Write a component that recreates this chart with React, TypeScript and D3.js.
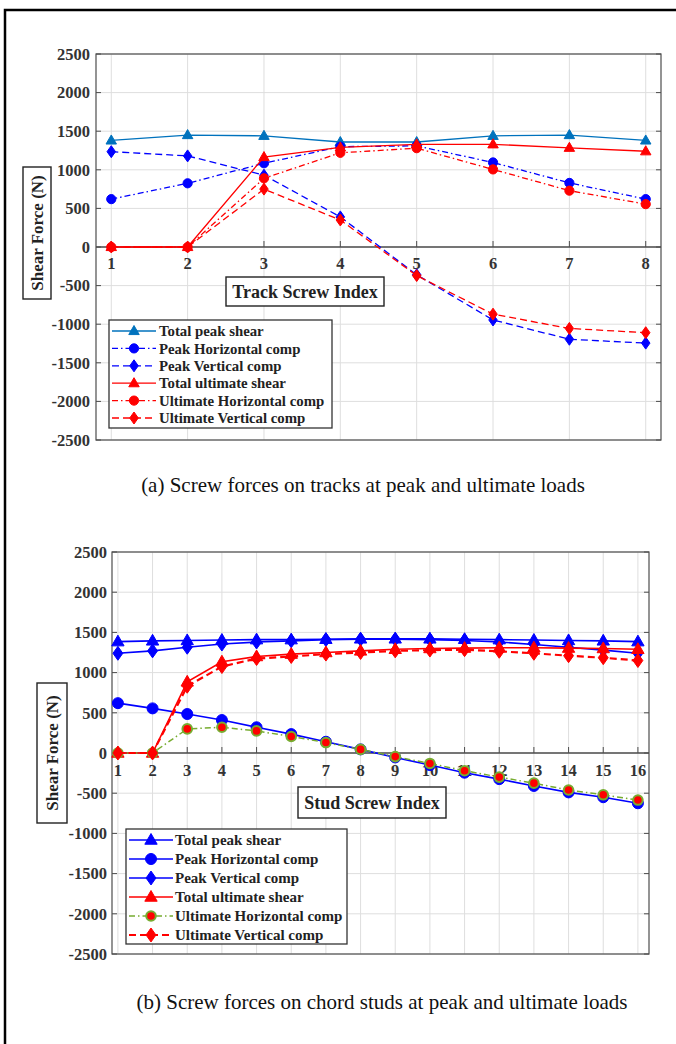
import React from 'react';
import * as d3 from 'd3';

// ---- data ----
const trackIndex = [1, 2, 3, 4, 5, 6, 7, 8];
const trackTotalPeak = [1380, 1450, 1440, 1360, 1360, 1440, 1450, 1380];
const trackPeakHoriz = [620, 825, 1085, 1300, 1310, 1095, 830, 620];
const trackPeakVert = [1235, 1180, 930, 390, -360, -945, -1195, -1245];
const trackTotalUlt = [0, 0, 1165, 1290, 1330, 1330, 1285, 1240];
const trackUltHoriz = [0, 0, 890, 1220, 1280, 1005, 730, 555];
const trackUltVert = [0, 0, 750, 350, -370, -870, -1055, -1110];

const studIndex = [1, 2, 3, 4, 5, 6, 7, 8, 9, 10, 11, 12, 13, 14, 15, 16];
const studTotalPeak = [1385, 1395, 1400, 1405, 1410, 1410, 1415, 1420, 1420, 1420, 1415, 1410, 1405, 1400, 1395, 1385];
const studPeakHoriz = [620, 555, 485, 410, 320, 235, 140, 45, -55, -150, -245, -325, -410, -490, -550, -625];
const studPeakVert = [1240, 1270, 1315, 1355, 1380, 1395, 1410, 1415, 1415, 1410, 1400, 1380, 1350, 1315, 1280, 1240];
const studTotalUlt = [0, 0, 885, 1135, 1200, 1230, 1250, 1270, 1290, 1300, 1305, 1310, 1310, 1305, 1300, 1290];
const studUltHoriz = [0, 0, 300, 320, 275, 205, 130, 45, -45, -130, -220, -300, -375, -460, -520, -585];
const studUltVert = [0, 0, 830, 1075, 1175, 1200, 1230, 1250, 1270, 1280, 1285, 1265, 1240, 1210, 1185, 1150];

const seriesNames = [
  'Total peak shear',
  'Peak Horizontal comp',
  'Peak Vertical comp',
  'Total ultimate shear',
  'Ultimate Horizontal comp',
  'Ultimate Vertical comp',
];
const yTicks = [2500, 2000, 1500, 1000, 500, 0, -500, -1000, -1500, -2000, -2500];

const FONT = '"Liberation Serif", "Times New Roman", serif';
const DASH = '7,4';
const DASHDOT = '6,3,1.5,3';

type Marker = 'tri' | 'circle' | 'diamond';
type Series = {
  name: string;
  values: number[];
  color: string;
  dash?: string;
  width: number;
  marker: Marker;
  fill: string;
  edge: string;
  edgeW: number;
  size: number;
};

const markerPath = (m: Marker, s: number) => {
  if (m === 'tri') return `M0,${-s} L${s * 0.95},${s * 0.65} L${-s * 0.95},${s * 0.65} Z`;
  if (m === 'diamond') return `M0,${-s * 1.2} L${s * 0.85},0 L0,${s * 1.2} L${-s * 0.85},0 Z`;
  return `M${s},0 A${s},${s} 0 1 1 ${-s},0 A${s},${s} 0 1 1 ${s},0 Z`;
};

type PanelProps = {
  left: number; right: number; top: number; bottom: number;
  xDomain: [number, number];
  index: number[];
  series: Series[];
  tickFont: number;
  yLabelRight: number;
  xLabelBaseline: number;
  xTitle: string;
  xBox: [number, number, number, number];
  xTitleFont: number;
  yTitleFont: number;
  yBox: [number, number, number, number];
  legend: { x0: number; x1: number; y0: number; y1: number; row0: number; step: number; lineX0: number; lineX1: number; textX: number; font: number };
};

const Panel = (p: PanelProps) => {
  const x = d3.scaleLinear().domain(p.xDomain).range([p.left, p.right]);
  const y = d3.scaleLinear().domain([-2500, 2500]).range([p.bottom, p.top]);
  const y0 = y(0);
  const axisColor = '#4d4d4d';
  const lg = p.legend;
  return (
    <g>
      {/* grid */}
      {yTicks.map(t => (
        <line key={'gy' + t} x1={p.left} x2={p.right} y1={y(t)} y2={y(t)} stroke="#dedede" strokeWidth={1} />
      ))}
      {p.index.map(i => (
        <line key={'gx' + i} x1={x(i)} x2={x(i)} y1={p.top} y2={p.bottom} stroke="#dedede" strokeWidth={1} />
      ))}
      {/* box */}
      <rect x={p.left} y={p.top} width={p.right - p.left} height={p.bottom - p.top} fill="none" stroke={axisColor} strokeWidth={1.2} />
      {/* y ticks both sides */}
      {yTicks.map(t => (
        <g key={'yt' + t}>
          <line x1={p.left} x2={p.left + 5} y1={y(t)} y2={y(t)} stroke={axisColor} />
          <line x1={p.right} x2={p.right - 5} y1={y(t)} y2={y(t)} stroke={axisColor} />
          <text x={p.yLabelRight} y={y(t)} dy="0.35em" textAnchor="end" fontFamily={FONT} fontWeight="bold" fontSize={p.tickFont} fill="#333">
            {t}
          </text>
        </g>
      ))}
      {/* x axis at origin */}
      <line x1={p.left} x2={p.right} y1={y0} y2={y0} stroke={axisColor} strokeWidth={1.4} />
      {p.index.map(i => (
        <g key={'xt' + i}>
          <line x1={x(i)} x2={x(i)} y1={y0} y2={y0 - 6} stroke={axisColor} />
          <text x={x(i)} y={p.xLabelBaseline} textAnchor="middle" fontFamily={FONT} fontWeight="bold" fontSize={p.tickFont} fill="#333">
            {i}
          </text>
        </g>
      ))}
      {/* series */}
      {p.series.map(s => {
        const line = d3.line<number>().x((_, k) => x(p.index[k])).y(v => y(v));
        return (
          <g key={s.name}>
            <path d={line(s.values) || ''} fill="none" stroke={s.color} strokeWidth={s.width} strokeDasharray={s.dash} />
            {s.values.map((v, k) => (
              <path key={k} d={markerPath(s.marker, s.size)} transform={`translate(${x(p.index[k])},${y(v)})`}
                fill={s.fill} stroke={s.edge} strokeWidth={s.edgeW} />
            ))}
          </g>
        );
      })}
      {/* x title box */}
      <rect x={p.xBox[0]} y={p.xBox[1]} width={p.xBox[2] - p.xBox[0]} height={p.xBox[3] - p.xBox[1]} fill="#fff" stroke="#222" strokeWidth={1.4} />
      <text x={(p.xBox[0] + p.xBox[2]) / 2} y={(p.xBox[1] + p.xBox[3]) / 2} dy="0.35em" textAnchor="middle" fontFamily={FONT} fontWeight="bold" fontSize={p.xTitleFont} fill="#222">
        {p.xTitle}
      </text>
      {/* y title box */}
      <rect x={p.yBox[0]} y={p.yBox[1]} width={p.yBox[2] - p.yBox[0]} height={p.yBox[3] - p.yBox[1]} fill="#fff" stroke="#222" strokeWidth={1.4} />
      <text transform={`translate(${(p.yBox[0] + p.yBox[2]) / 2},${(p.yBox[1] + p.yBox[3]) / 2}) rotate(-90)`} dy="0.35em" textAnchor="middle" fontFamily={FONT} fontWeight="bold" fontSize={p.yTitleFont} fill="#222">
        Shear Force (N)
      </text>
      {/* legend */}
      <rect x={lg.x0} y={lg.y0} width={lg.x1 - lg.x0} height={lg.y1 - lg.y0} fill="#fff" stroke="#333" strokeWidth={1.3} />
      {p.series.map((s, k) => {
        const cy = lg.row0 + k * lg.step;
        return (
          <g key={'lg' + s.name}>
            <line x1={lg.lineX0} x2={lg.lineX1} y1={cy} y2={cy} stroke={s.color} strokeWidth={s.width} strokeDasharray={s.dash} />
            <path d={markerPath(s.marker, s.size)} transform={`translate(${(lg.lineX0 + lg.lineX1) / 2},${cy})`} fill={s.fill} stroke={s.edge} strokeWidth={s.edgeW} />
            <text x={lg.textX} y={cy} dy="0.35em" fontFamily={FONT} fontWeight="bold" fontSize={lg.font} fill="#222">
              {s.name}
            </text>
          </g>
        );
      })}
    </g>
  );
};

const App = () => {
  const blue = '#0000ff';
  const red = '#ff0000';
  const mBlue = '#0072bd';
  const green = '#77ac30';

  const trackSeries: Series[] = [
    { name: seriesNames[0], values: trackTotalPeak, color: mBlue, width: 1.3, marker: 'tri', fill: mBlue, edge: mBlue, edgeW: 1, size: 5.5 },
    { name: seriesNames[1], values: trackPeakHoriz, color: blue, dash: DASHDOT, width: 1.3, marker: 'circle', fill: blue, edge: blue, edgeW: 1, size: 4.6 },
    { name: seriesNames[2], values: trackPeakVert, color: blue, dash: DASH, width: 1.3, marker: 'diamond', fill: blue, edge: blue, edgeW: 1, size: 5 },
    { name: seriesNames[3], values: trackTotalUlt, color: red, width: 1.3, marker: 'tri', fill: red, edge: red, edgeW: 1, size: 5.5 },
    { name: seriesNames[4], values: trackUltHoriz, color: red, dash: DASHDOT, width: 1.3, marker: 'circle', fill: red, edge: red, edgeW: 1, size: 4.6 },
    { name: seriesNames[5], values: trackUltVert, color: red, dash: DASH, width: 1.3, marker: 'diamond', fill: red, edge: red, edgeW: 1, size: 5 },
  ];

  const studSeries: Series[] = [
    { name: seriesNames[0], values: studTotalPeak, color: blue, width: 1.6, marker: 'tri', fill: blue, edge: blue, edgeW: 1, size: 6.5 },
    { name: seriesNames[1], values: studPeakHoriz, color: blue, width: 1.6, marker: 'circle', fill: blue, edge: blue, edgeW: 1, size: 5.5 },
    { name: seriesNames[2], values: studPeakVert, color: blue, width: 1.6, marker: 'diamond', fill: blue, edge: blue, edgeW: 1, size: 5.8 },
    { name: seriesNames[3], values: studTotalUlt, color: red, width: 1.6, marker: 'tri', fill: red, edge: red, edgeW: 1, size: 6.5 },
    { name: seriesNames[4], values: studUltHoriz, color: green, dash: DASHDOT, width: 1.5, marker: 'circle', fill: red, edge: green, edgeW: 2, size: 4.8 },
    { name: seriesNames[5], values: studUltVert, color: red, dash: '7,4', width: 2.2, marker: 'diamond', fill: red, edge: red, edgeW: 1, size: 5.8 },
  ];

  return (
    <svg width={676} height={1044} style={{ position: 'absolute', left: 0, top: 0, background: '#fff' }}>
      <rect x={0} y={0} width={676} height={1044} fill="#fff" />
      <path d="M5,1044 V10 H676" fill="none" stroke="#000" strokeWidth={2.5} />

      <Panel
        left={96} right={661} top={54} bottom={440}
        xDomain={[0.8, 8.2]}
        index={trackIndex}
        series={trackSeries}
        tickFont={16.5}
        yLabelRight={90}
        xLabelBaseline={269}
        xTitle="Track Screw Index"
        xBox={[226, 277, 384, 306]}
        xTitleFont={18}
        yTitleFont={17}
        yBox={[23, 167, 51, 299]}
        legend={{ x0: 109, x1: 332, y0: 320, y1: 428, row0: 331, step: 17.4, lineX0: 112, lineX1: 156, textX: 159, font: 14.8 }}
      />
      <text x={363} y={492} textAnchor="middle" fontFamily={FONT} fontSize={21} fill="#111">
        (a) Screw forces on tracks at peak and ultimate loads
      </text>

      <Panel
        left={112} right={649} top={552} bottom={954}
        xDomain={[0.83, 16.32]}
        index={studIndex}
        series={studSeries}
        tickFont={16.5}
        yLabelRight={107}
        xLabelBaseline={776}
        xTitle="Stud Screw Index"
        xBox={[298, 787, 446, 818]}
        xTitleFont={18}
        yTitleFont={17}
        yBox={[37, 683, 67, 823]}
        legend={{ x0: 126, x1: 347, y0: 829, y1: 944, row0: 840, step: 19, lineX0: 129, lineX1: 173, textX: 175, font: 15 }}
      />
      <text x={382} y={1009} textAnchor="middle" fontFamily={FONT} fontSize={21} fill="#111">
        (b) Screw forces on chord studs at peak and ultimate loads
      </text>
    </svg>
  );
};

export default App;
